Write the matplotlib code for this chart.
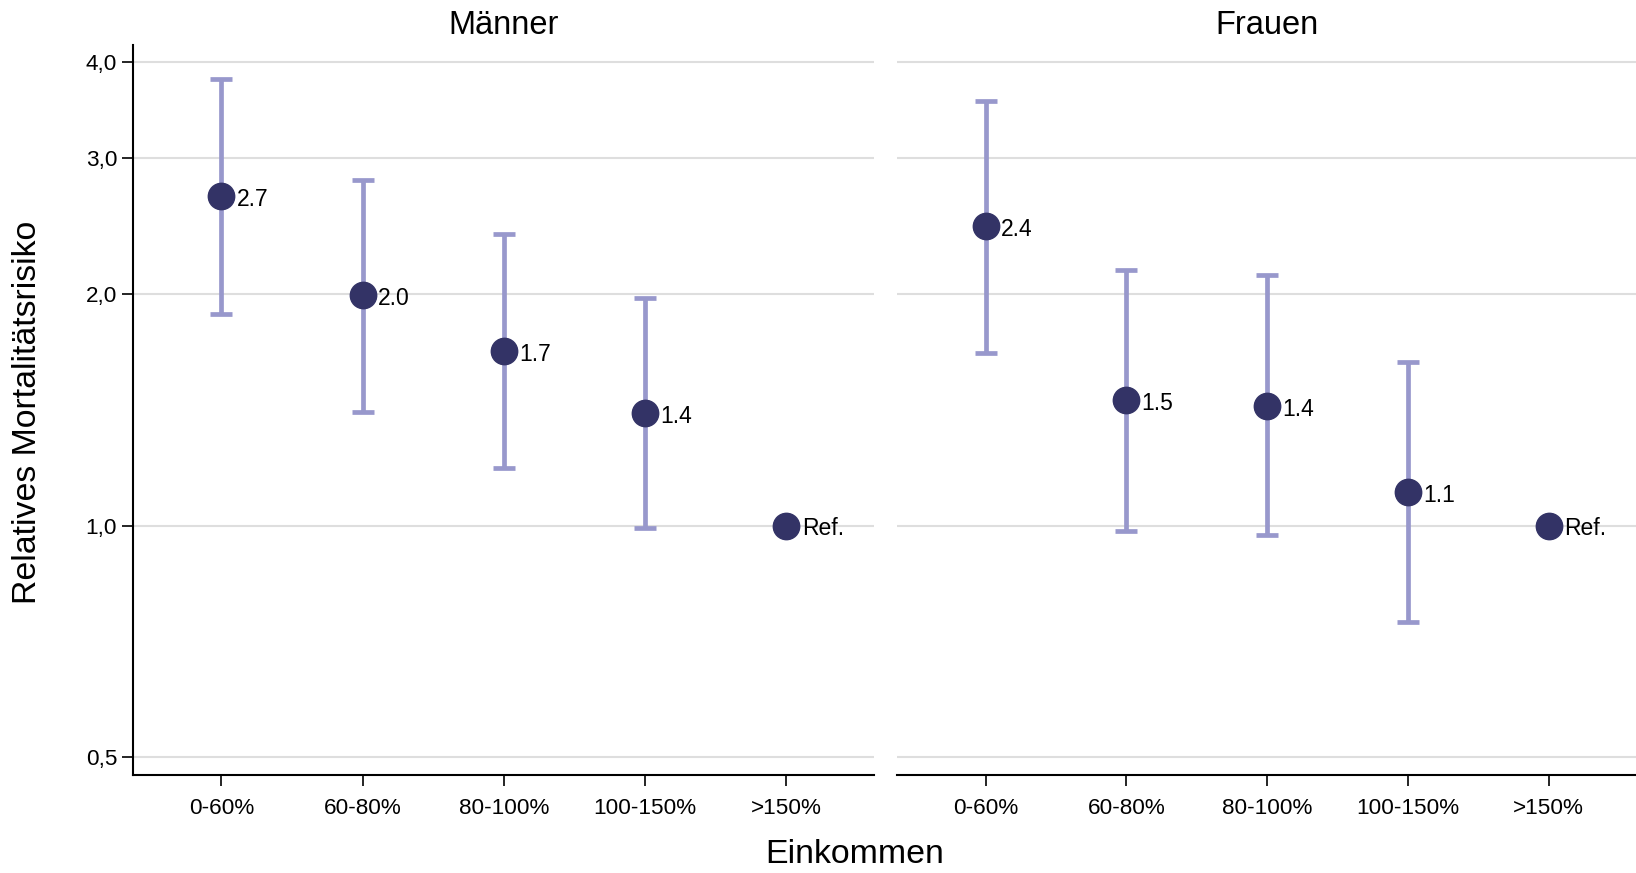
import matplotlib
matplotlib.use("Agg")
import matplotlib.pyplot as plt
from matplotlib.ticker import FixedLocator, FixedFormatter, NullLocator

plt.rcParams['font.family'] = ['Liberation Sans', 'DejaVu Sans']

categories = ["0-60%", "60-80%", "80-100%", "100-150%", ">150%"]
panels = ["Männer", "Frauen"]

men_rr = [2.68, 1.99, 1.685, 1.40, 1.0]
men_lo = [1.884, 1.404, 1.187, 0.994, None]
men_hi = [3.80, 2.815, 2.393, 1.978, None]
men_lab = ["2.7", "2.0", "1.7", "1.4", "Ref."]

women_rr = [2.447, 1.455, 1.431, 1.105, 1.0]
women_lo = [1.674, 0.985, 0.972, 0.749, None]
women_hi = [3.565, 2.145, 2.117, 1.63, None]
women_lab = ["2.4", "1.5", "1.4", "1.1", "Ref."]

yticks = [0.5, 1.0, 2.0, 3.0, 4.0]
ytick_labels = ["0,5", "1,0", "2,0", "3,0", "4,0"]

dot_col = "#333366"
bar_col = "#9898cc"
grid_col = "#dedede"

W, H = 1636, 873
fig = plt.figure(figsize=(W / 100, H / 100), dpi=100)
ax1 = fig.add_axes([132.5 / W, 97.7 / H, 741.5 / W, 730.3 / H])
ax2 = fig.add_axes([897 / W, 97.7 / H, 739 / W, 730.3 / H], sharey=ax1)

data = [(men_rr, men_lo, men_hi, men_lab), (women_rr, women_lo, women_hi, women_lab)]

for ax, title, (rr, lo, hi, lab) in zip([ax1, ax2], panels, data):
    ax.set_yscale("log")
    for y in yticks:
        ax.axhline(y, color=grid_col, lw=1.5, zorder=0)
    x = list(range(len(categories)))
    for i in x:
        if lo[i] is not None:
            ax.errorbar(i, rr[i], yerr=[[rr[i] - lo[i]], [hi[i] - rr[i]]], fmt="none",
                        ecolor=bar_col, elinewidth=3.4, capsize=8, capthick=3.4, zorder=2)
    ax.plot(x, rr, "o", color=dot_col, ms=19, zorder=3, linestyle="none")
    for i in x:
        ax.annotate(lab[i], (i, rr[i]), xytext=(11, -2.5), textcoords="offset points",
                    va="center", ha="left", fontsize=16.5, color="black")
    ax.set_xlim(-0.63, 4.62)
    ax.set_xticks(x)
    ax.set_xticklabels(categories, fontsize=16.2)
    ax.set_title(title, fontsize=23.5, pad=8)
    ax.spines["top"].set_visible(False)
    ax.spines["right"].set_visible(False)
    ax.spines["bottom"].set_linewidth(1.5)
    ax.spines["left"].set_linewidth(1.5)
    ax.tick_params(axis="x", length=8, width=1.2, pad=8.5, direction="out")
    ax.tick_params(axis="y", length=8, width=1.2, pad=3, direction="out", labelsize=16.2)

ax1.set_ylim(0.4737, 4.21)
ax1.yaxis.set_major_locator(FixedLocator(yticks))
ax1.yaxis.set_major_formatter(FixedFormatter(ytick_labels))
ax1.yaxis.set_minor_locator(NullLocator())
ax2.spines["left"].set_visible(False)
ax2.tick_params(axis="y", left=False, labelleft=False, which="both")

fig.text(28 / W, 1 - 412 / H, "Relatives Mortalitätsrisiko", rotation=90,
         fontsize=24.4, ha="center", va="center")
fig.text(855 / W, 3 / H, "Einkommen", fontsize=24.4, ha="center", va="bottom")

fig.savefig("out.png", dpi=100)
